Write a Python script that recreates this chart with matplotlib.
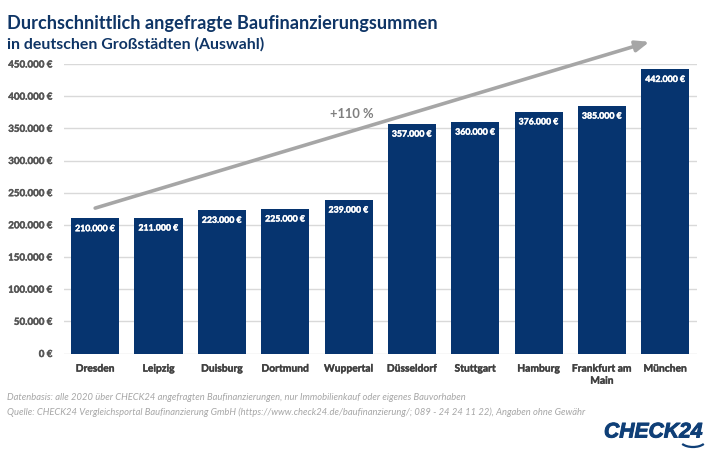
import matplotlib
matplotlib.use("Agg")
import matplotlib.pyplot as plt
import matplotlib.patheffects as pe
from matplotlib.patches import Arc
from matplotlib.transforms import IdentityTransform

plt.rcParams['font.family'] = ['Lato', 'DejaVu Sans']

cities = ["Dresden", "Leipzig", "Duisburg", "Dortmund", "Wuppertal", "Düsseldorf",
          "Stuttgart", "Hamburg", "Frankfurt am\nMain", "München"]
values = [210000, 211000, 223000, 225000, 239000, 357000, 360000, 376000, 385000, 442000]
yticks = list(range(0, 450001, 50000))
NAVY = "#06346f"
W, H = 710, 451

def de(v):
    return f"{v:,}".replace(",", ".") + " €"

fig = plt.figure(figsize=(W/100, H/100), dpi=100, facecolor="white")
ax = fig.add_axes([63.5/W, 1-353.5/H, (697-63.5)/W, 289.5/H])
x = range(len(cities))
ax.bar(x, values, width=0.76, color=NAVY, zorder=2)
ax.set_xlim(-0.5, 9.5)
ax.set_ylim(0, 450000)
ax.set_yticks(yticks)
ax.set_yticklabels([de(v) for v in yticks], fontsize=7.0, fontweight="bold", color="#555555")
ax.set_xticks(list(x))
ax.set_xticklabels(cities, fontsize=7.4, fontweight="bold", color="#404040", linespacing=1.45)
ax.tick_params(axis="both", length=0)
ax.tick_params(axis="x", pad=8)
ax.tick_params(axis="y", pad=8)
for lab in ax.get_yticklabels():
    lab.set_path_effects([pe.withStroke(linewidth=0.3, foreground="#555555")])
for lab in ax.get_xticklabels():
    lab.set_path_effects([pe.withStroke(linewidth=0.25, foreground="#404040")])
ax.grid(axis="y", color="#d9d9d9", lw=1, zorder=0)
ax.set_axisbelow(True)
for s in ax.spines.values():
    s.set_visible(False)
for i, v in enumerate(values):
    t = ax.text(i, v-16000, de(v), ha="center", va="center", color="white",
                fontsize=6.3, fontweight="bold", zorder=4)
    t.set_path_effects([pe.withStroke(linewidth=0.3, foreground="white")])

# trend arrow
ax.annotate("", xy=(8.75, 484500), xytext=(-0.0, 226000), annotation_clip=False, zorder=5,
            arrowprops=dict(arrowstyle="-|>,head_length=0.8,head_width=0.32", lw=2.6, color="#a6a6a6",
                            shrinkA=0, shrinkB=0))
ax.text(4.05, 372000, "+110 %", ha="center", va="center", fontsize=9.3, fontweight="bold", color="#7f7f7f", zorder=5)

fig.text(7/W, 1-23/H, "Durchschnittlich angefragte Baufinanzierungsummen", fontsize=13.1, fontweight="bold",
         color="#0f3566", va="center", ha="left")
fig.text(7/W, 1-44/H, "in deutschen Großstädten (Auswahl)", fontsize=11.4, fontweight="bold",
         color="#0f3566", va="center", ha="left")
foot = dict(style="italic", color="#a6a6a6", va="center", ha="left")
fig.text(7/W, 1-397/H, "Datenbasis: alle 2020 über CHECK24 angefragten Baufinanzierungen, nur Immobilienkauf oder eigenes Bauvorhaben",
         fontsize=6.75, **foot)
t2 = fig.text(7/W, 1-412/H, "Quelle: CHECK24 Vergleichsportal Baufinanzierung GmbH (https://www.check24.de/baufinanzierung/; 089 - 24 24 11 22), Angaben ohne Gewähr",
         fontsize=6.75, **foot)
logo = fig.text(604/W, 1-432/H, "CHECK24", fontsize=15.2, fontweight="bold", style="italic", family="Liberation Sans",
                color="#0f3f77", va="center", ha="left")
logo.set_path_effects([pe.withStroke(linewidth=0.7, foreground="#0f3f77")])
fig.add_artist(Arc((693, H-440), 26, 14, theta1=200, theta2=340, color="#0f3f77", lw=1.6,
                   transform=IdentityTransform()))
fig.savefig("out.png", dpi=100, facecolor="white")
